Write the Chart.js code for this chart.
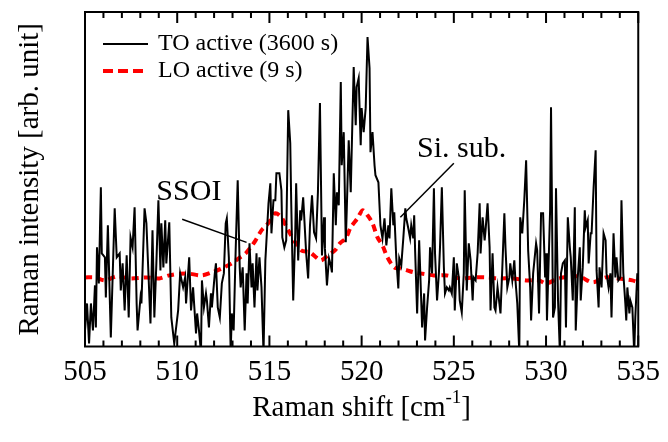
<!DOCTYPE html>
<html>
<head>
<meta charset="utf-8">
<script src="https://cdn.jsdelivr.net/npm/chart.js@4.4.0/dist/chart.umd.min.js"></script>
<style>
  body { margin: 0; background: #fff; }
  canvas { display: block; }
</style>
</head>
<body>
<canvas id="myChart" width="668" height="442"></canvas>
<script>
// TO active spectrum, 3600 s acquisition
const toShift = [
  505.00, 505.11, 505.22, 505.32, 505.43, 505.54, 505.59, 505.65, 505.75, 505.86, 505.91, 506.08, 506.13, 506.24, 506.40,
  506.61, 506.72, 506.88, 506.94, 507.04, 507.15, 507.26, 507.37, 507.47, 507.58, 507.69, 507.80, 507.85, 508.01, 508.06,
  508.23, 508.33, 508.55, 508.66, 508.76, 508.87, 508.98, 509.09, 509.14, 509.25, 509.35, 509.41, 509.57, 509.68, 509.84,
  510.05, 510.16, 510.32, 510.43, 510.48, 510.65, 510.75, 510.86, 511.02, 511.08, 511.18, 511.29, 511.34, 511.45, 511.56,
  511.61, 511.72, 511.83, 511.88, 512.04, 512.10, 512.20, 512.31, 512.42, 512.53, 512.63, 512.69, 512.80, 512.90, 512.96,
  513.06, 513.17, 513.28, 513.39, 513.44, 513.55, 513.66, 513.76, 513.82, 513.92, 514.03, 514.09, 514.19, 514.30, 514.35,
  514.46, 514.57, 514.68, 514.78, 514.84, 514.95, 515.05, 515.11, 515.22, 515.32, 515.38, 515.54, 515.65, 515.70, 515.81,
  515.91, 516.02, 516.13, 516.18, 516.29, 516.40, 516.45, 516.56, 516.67, 516.72, 516.83, 516.99, 517.10, 517.20, 517.31,
  517.42, 517.53, 517.63, 517.74, 517.85, 517.96, 518.01, 518.12, 518.23, 518.33, 518.39, 518.49, 518.60, 518.66, 518.76,
  518.87, 518.92, 519.03, 519.14, 519.19, 519.30, 519.41, 519.46, 519.57, 519.68, 519.73, 519.84, 519.95, 520.00, 520.11,
  520.22, 520.32, 520.43, 520.48, 520.59, 520.70, 520.75, 520.91, 521.02, 521.13, 521.24, 521.34, 521.45, 521.51, 521.61,
  521.72, 521.77, 521.88, 521.99, 522.04, 522.15, 522.26, 522.37, 522.42, 522.53, 522.63, 522.69, 522.80, 522.85, 522.90,
  523.01, 523.12, 523.17, 523.28, 523.39, 523.44, 523.55, 523.66, 523.71, 523.82, 523.92, 523.98, 524.09, 524.19, 524.25,
  524.35, 524.46, 524.52, 524.62, 524.73, 524.78, 524.89, 525.00, 525.05, 525.16, 525.27, 525.32, 525.43, 525.54, 525.59,
  525.70, 525.81, 525.91, 526.02, 526.07, 526.18, 526.29, 526.40, 526.45, 526.56, 526.67, 526.72, 526.83, 526.94, 526.99,
  527.10, 527.20, 527.26, 527.37, 527.47, 527.53, 527.63, 527.74, 527.80, 527.90, 528.01, 528.06, 528.17, 528.28, 528.33,
  528.44, 528.55, 528.60, 528.71, 528.82, 528.92, 529.03, 529.14, 529.19, 529.30, 529.46, 529.52, 529.62, 529.73, 529.84,
  529.95, 530.00, 530.05, 530.22, 530.27, 530.38, 530.48, 530.54, 530.65, 530.75, 530.81, 530.91, 531.02, 531.08, 531.18,
  531.29, 531.34, 531.45, 531.56, 531.61, 531.72, 531.83, 531.88, 531.99, 532.10, 532.15, 532.26, 532.31, 532.42, 532.47,
  532.58, 532.69, 532.74, 532.85, 532.90, 533.01, 533.12, 533.23, 533.28, 533.39, 533.49, 533.55, 533.66, 533.76, 533.82,
  533.92, 534.03, 534.09, 534.19, 534.30, 534.35, 534.41, 534.52, 534.57, 534.68, 534.78, 534.84, 534.95, 535.00
];
const toIntensity = [
  16, 43, 3, 43, 16, 61, 19, 99, 63, 159, 93, 89, 49, 121, 9,
  138, 89, 93, 56, 83, 36, 91, 29, 109, 99, 139, 43, 16, 49, 43,
  138, 123, 23, 116, 29, 83, 146, 76, 123, 79, 126, 83, 124, 29, 3,
  36, 73, 59, 69, 43, 89, 36, 59, 13, 33, 16, -6, 66, 39, 53,
  46, 19, 53, 39, 73, 83, 39, 29, 63, 73, 123, 128, 89, -6, 33,
  16, 96, 166, 79, 59, 79, 16, 73, 43, 103, 59, 83, 39, 93, 56,
  89, 59, -6, 86, 106, 143, 163, 113, 146, 146, 173, 173, 156, 109, 99,
  106, 236, 203, 146, 46, 113, 163, 86, 136, 126, 149, 94, 68, 121, 151,
  114, 108, 154, 243, 91, 129, 98, 61, 88, 81, 74, 173, 121, 154, 141,
  264, 181, 214, 104, 134, 206, 154, 194, 279, 221, 259, 268, 201, 238, 214,
  238, 309, 278, 194, 214, 181, 171, 164, 121, 108, 128, 101, 121, 108, 158,
  121, 134, 88, 58, 88, 81, 108, 138, 128, 118, 108, 121, 108, 131, 96,
  33, 106, 79, 19, 53, 6, 39, 66, 99, 73, 158, 93, 46, 73, 99,
  159, 79, 53, 59, 56, 59, 53, 89, 36, 83, 69, 46, 34, 73, 156,
  56, 103, 86, 46, 69, 66, 93, 143, 93, 129, 106, 116, 143, 99, 36,
  93, 39, 36, 59, 43, 33, 79, 133, 99, 59, 69, 83, 66, 86, 69,
  43, -6, 129, 113, 146, 186, 96, 59, 26, 73, 103, 96, 33, 133, 133,
  69, 93, 26, 136, 239, 29, 39, 158, 46, -6, 73, 83, 86, 19, 129,
  99, 89, 46, 139, 16, 69, 99, 46, 79, 136, 119, 126, 83, 113, 113,
  159, 196, 76, 39, 79, 59, 113, 106, 73, 59, 73, 29, 113, 69, 89,
  66, 69, 146, 73, 43, 26, 59, 33, 46, 39, -6, 29, 73, 56
];

// LO active spectrum, 9 s acquisition
const loShift = [
  505.00, 505.54, 506.08, 506.72, 507.42, 508.33, 509.03, 509.57, 510.48, 511.34, 511.88, 512.42, 512.96, 513.33, 513.71,
  513.98, 514.25, 514.57, 514.84, 515.05, 515.32, 515.65, 516.02, 516.40, 516.72, 517.20, 517.53, 517.80, 518.17, 518.55,
  518.82, 519.14, 519.41, 519.78, 520.05, 520.32, 520.59, 520.86, 521.13, 521.40, 521.77, 522.10, 522.47, 522.85, 523.17,
  523.92, 524.62, 525.32, 526.07, 526.77, 527.47, 528.22, 528.92, 529.62, 530.00, 530.70, 531.77, 532.53, 533.23, 533.92,
  534.68, 535.00
];
const loIntensity = [
  69, 69, 66, 70, 68, 69, 68, 71, 73, 71, 74, 78, 83, 88, 93,
  99, 106, 116, 121, 126, 133, 129, 116, 104, 96, 94, 89, 86, 91, 96,
  103, 108, 119, 128, 136, 131, 123, 109, 101, 89, 79, 78, 76, 74, 73,
  71, 71, 68, 69, 69, 68, 68, 66, 66, 63, 68, 70, 64, 69, 68,
  66, 64
];

const xTicks = [505, 510, 515, 520, 525, 530, 535];
const seriesNames = ['TO active (3600 s)', 'LO active (9 s)'];

const serif = '"Liberation Serif", "Times New Roman", serif';

function pairs(xs, ys) {
  return xs.map((x, i) => ({ x: x, y: ys[i] }));
}

// frame, inward ticks, legend, labels and axis titles
const decorations = {
  id: 'decorations',
  afterDraw(chart) {
    const c = chart.ctx;
    const a = chart.chartArea;
    const xs = chart.scales.x;
    const ys = chart.scales.y;
    c.save();
    c.strokeStyle = '#000';
    c.fillStyle = '#000';

    c.lineWidth = 2;
    c.strokeRect(a.left, a.top, a.right - a.left, a.bottom - a.top);

    for (let v = 505; v <= 535; v++) {
      const px = xs.getPixelForValue(v);
      const len = v % 5 === 0 ? 11 : 6;
      c.beginPath();
      c.moveTo(px, a.top);
      c.lineTo(px, a.top + len);
      c.moveTo(px, a.bottom);
      c.lineTo(px, a.bottom - len);
      c.stroke();
    }

    // legend
    c.font = '24px ' + serif;
    c.textBaseline = 'middle';
    c.textAlign = 'left';
    c.lineWidth = 2;
    c.beginPath();
    c.moveTo(a.left + 18, 44);
    c.lineTo(a.left + 63, 44);
    c.stroke();
    c.fillText(seriesNames[0], a.left + 73, 44);

    c.strokeStyle = '#ff0000';
    c.lineWidth = 4;
    c.setLineDash([10, 5]);
    c.beginPath();
    c.moveTo(a.left + 18, 71);
    c.lineTo(a.left + 58, 71);
    c.stroke();
    c.setLineDash([]);
    c.fillText(seriesNames[1], a.left + 73, 71);

    // peak notes
    c.strokeStyle = '#000';
    c.lineWidth = 1.5;
    c.font = '30px ' + serif;
    c.textBaseline = 'alphabetic';
    c.fillText('SSOI', xs.getPixelForValue(508.87), ys.getPixelForValue(146));
    c.beginPath();
    c.moveTo(xs.getPixelForValue(510.27), ys.getPixelForValue(127));
    c.lineTo(xs.getPixelForValue(513.76), ys.getPixelForValue(104));
    c.stroke();

    c.fillText('Si. sub.', xs.getPixelForValue(523.0), ys.getPixelForValue(189));
    c.beginPath();
    c.moveTo(xs.getPixelForValue(525.0), ys.getPixelForValue(183));
    c.lineTo(xs.getPixelForValue(522.1), ys.getPixelForValue(129));
    c.stroke();

    // x title with superscript
    const main = 'Raman shift [cm';
    const sup = '-1';
    const tail = ']';
    c.font = '29px ' + serif;
    const w1 = c.measureText(main).width;
    const w3 = c.measureText(tail).width;
    c.font = '19px ' + serif;
    const w2 = c.measureText(sup).width;
    let tx = (a.left + a.right) / 2 - (w1 + w2 + w3) / 2;
    const base = 416;
    c.font = '29px ' + serif;
    c.fillText(main, tx, base);
    c.font = '19px ' + serif;
    c.fillText(sup, tx + w1, base - 13);
    c.font = '29px ' + serif;
    c.fillText(tail, tx + w1 + w2, base);

    // y title
    c.translate(30, (a.top + a.bottom) / 2);
    c.rotate(-Math.PI / 2);
    c.textAlign = 'center';
    c.textBaseline = 'middle';
    c.fillText('Raman intensity [arb. unit]', 0, 0);
    c.restore();
  }
};

new Chart(document.getElementById('myChart'), {
  type: 'line',
  data: {
    datasets: [{
      label: seriesNames[0],
      data: pairs(toShift, toIntensity),
      borderColor: '#000',
      borderWidth: 2,
      pointRadius: 0,
      tension: 0
    }, {
      label: seriesNames[1],
      data: pairs(loShift, loIntensity),
      borderColor: '#ff0000',
      borderWidth: 4,
      borderDash: [7, 5],
      pointRadius: 0,
      tension: 0.3
    }]
  },
  options: {
    responsive: false,
    animation: false,
    devicePixelRatio: 1,
    layout: { padding: { top: 12, right: 25, left: 0, bottom: 0 } },
    plugins: {
      legend: { display: false },
      tooltip: { enabled: false }
    },
    scales: {
      x: {
        type: 'linear',
        min: 505,
        max: 535,
        afterBuildTicks: scale => { scale.ticks = xTicks.map(v => ({ value: v })); },
        afterFit: scale => { scale.height = 95.5; },
        grid: { display: false, drawTicks: false },
        border: { display: false },
        ticks: {
          color: '#000',
          font: { family: serif, size: 29 },
          padding: 8,
          maxRotation: 0,
          autoSkip: false
        }
      },
      y: {
        min: 0,
        max: 334,
        afterFit: scale => { scale.width = 85; },
        grid: { display: false, drawTicks: false },
        border: { display: false },
        ticks: { display: false }
      }
    }
  },
  plugins: [decorations]
});
</script>
</body>
</html>
